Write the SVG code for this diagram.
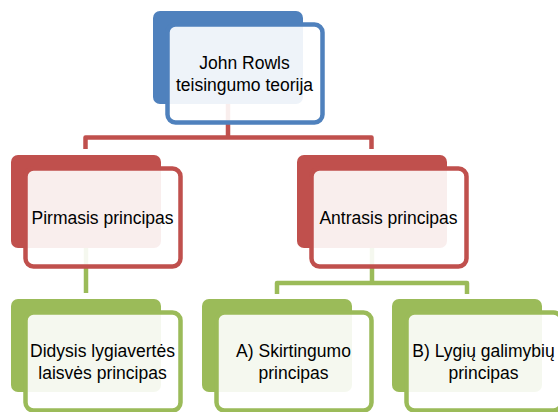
<svg xmlns="http://www.w3.org/2000/svg" width="558" height="412" viewBox="0 0 558 412">
<style>
.back{stroke:none}
.front{fill:#ffffff;fill-opacity:0.9;stroke-width:4.5}
.lbl{font-family:"Liberation Sans",Arial,sans-serif;font-size:17.5px;fill:#000;text-anchor:middle}
.blue .back{fill:#4F81BD}.blue .front{stroke:#4F81BD}
.red .back{fill:#C0504D}.red .front{stroke:#C0504D}
.green .back{fill:#9BBB59}.green .front{stroke:#9BBB59}
.conn{fill:none;stroke-width:4.5;stroke-linejoin:round}
</style>
<rect width="558" height="412" fill="#ffffff"/>
<g id="connectors">
<path class="conn" stroke="#C0504D" d="M228,103 V137.5 M85.5,149 V137.5 H371.5 V149"/>
<path class="conn" stroke="#9BBB59" d="M86,248 V293"/>
<path class="conn" stroke="#9BBB59" d="M372,248 V283 M277,294 V283 H467 V294"/>
</g>
<g id="n-top" class="blue">
<rect class="back" x="153" y="11" width="150" height="93" rx="7"/>
<rect class="front" x="167.5" y="24.5" width="155" height="98" rx="8"/>
<text class="lbl" x="244.5" y="68.5">John Rowls</text>
<text class="lbl" x="244.5" y="90.5">teisingumo teorija</text>
</g>
<g id="n-pirmasis" class="red">
<rect class="back" x="11" y="155" width="150" height="93" rx="7"/>
<rect class="front" x="25.5" y="168.5" width="155" height="98" rx="8"/>
<text class="lbl" x="102.5" y="223.5">Pirmasis principas</text>
</g>
<g id="n-antrasis" class="red">
<rect class="back" x="297" y="155" width="150" height="93" rx="7"/>
<rect class="front" x="311.5" y="168.5" width="155" height="98" rx="8"/>
<text class="lbl" x="388.5" y="223.5">Antrasis principas</text>
</g>
<g id="n-didysis" class="green">
<rect class="back" x="11" y="299" width="150" height="93" rx="7"/>
<rect class="front" x="25.5" y="312.5" width="155" height="98" rx="8"/>
<text class="lbl" x="102.5" y="356.5">Didysis lygiavertės</text>
<text class="lbl" x="102.5" y="378.5">laisvės principas</text>
</g>
<g id="n-skirtingumo" class="green">
<rect class="back" x="202" y="299" width="150" height="93" rx="7"/>
<rect class="front" x="216.5" y="312.5" width="155" height="98" rx="8"/>
<text class="lbl" x="293.5" y="356.5">A) Skirtingumo</text>
<text class="lbl" x="293.5" y="378.5">principas</text>
</g>
<g id="n-lygiu" class="green">
<rect class="back" x="392" y="299" width="150" height="93" rx="7"/>
<rect class="front" x="406.5" y="312.5" width="155" height="98" rx="8"/>
<text class="lbl" x="483.5" y="356.5">B) Lygių galimybių</text>
<text class="lbl" x="483.5" y="378.5">principas</text>
</g>
</svg>
